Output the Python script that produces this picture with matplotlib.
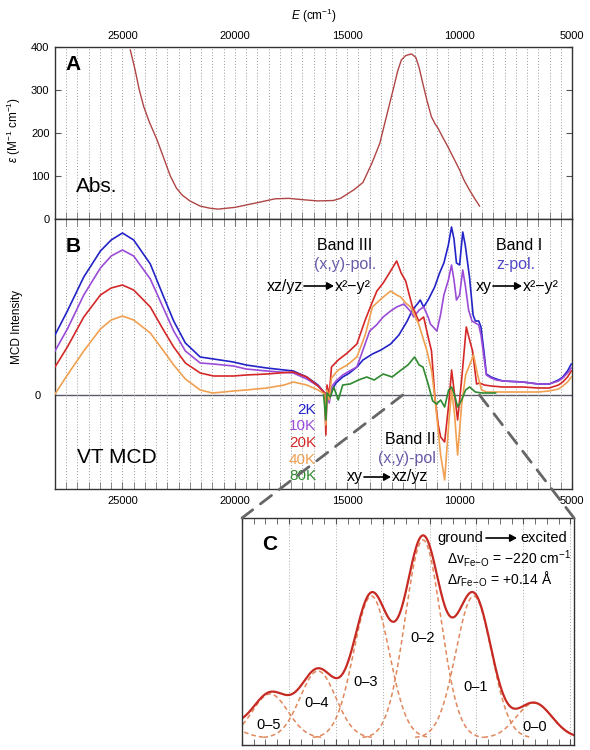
import matplotlib
matplotlib.use('Agg')
import matplotlib.pyplot as plt
import numpy as np
from matplotlib.patches import ConnectionPatch, FancyArrowPatch
from matplotlib.ticker import MultipleLocator, FixedLocator

plt.rcParams['font.family'] = ['Liberation Sans', 'DejaVu Sans']
plt.rcParams['mathtext.fontset'] = 'custom'
plt.rcParams['mathtext.rm'] = 'Liberation Sans'
plt.rcParams['mathtext.it'] = 'Liberation Sans:italic'

# ---------------- data ----------------
abs_E = [24650, 24450, 24250, 24050, 23800, 23460, 23150, 22870, 22600, 22350, 22000, 21540,
         21100, 20750, 20000, 19000, 18200, 17600, 17000, 16300, 15620, 15300, 15000, 14700,
         14300, 13900, 13550, 13200, 12960, 12750, 12590, 12400, 12144, 11950, 11800, 11650,
         11450, 11256, 11100, 10960, 10750, 10520, 10250, 10000, 9800, 9556, 9300, 9112]
abs_eps = [393, 350, 300, 261, 225, 184, 140, 100, 72, 56, 42, 30,
           25, 23, 27, 38, 47, 48, 45, 42, 43, 48, 58, 68,
           85, 130, 176, 250, 300, 345, 370, 380, 384, 376, 352, 318,
           275, 238, 222, 211, 190, 168, 140, 114, 90, 67, 45, 30]

mcd_2K_E = [28000, 27450, 26720, 25980, 25500, 25000, 24500, 23760, 23200, 22720, 22200, 21540,
            20950, 20060, 19500, 18580, 17400, 16800, 16300, 16000, 15950, 15900, 15800, 15700,
            15500, 15200, 14900, 14570, 14300, 13880, 13500, 13070, 12700, 12330, 12100, 11880,
            11750, 11600, 11400, 11110, 10890, 10700, 10500, 10360, 10250, 10140, 10000, 9860,
            9750, 9560, 9400, 9300, 9150, 9050, 8900, 8810, 8600, 8370, 8080, 7190, 6500, 6010,
            5600, 5410, 5200, 5030]
mcd_2K = [60, 84, 118, 144, 155, 162, 155, 131, 100, 74, 52, 38,
          36, 33, 30, 27, 24, 18, 10, 2, -20, 5, -5, 4,
          12, 18, 22, 28, 35, 41, 45, 51, 60, 74, 85, 91,
          95, 88, 95, 108, 122, 132, 150, 168, 156, 132, 130, 163,
          150, 118, 80, 74, 74, 68, 40, 21, 18, 16, 14, 13, 11, 11,
          15, 18, 24, 31]

mcd_10K_E = [28000, 27450, 26720, 25980, 25500, 25000, 24500, 23760, 23200, 22720, 22200, 21540,
             20950, 20060, 19500, 18580, 17400, 16800, 16300, 16000, 15950, 15900, 15800, 15700,
             15500, 15200, 14900, 14570, 14300, 14000, 13700, 13400, 13070, 12800, 12480, 12200,
             12040, 11800, 11600, 11400, 11300, 11010, 10850, 10700, 10500, 10360, 10250, 10140,
             10000, 9860, 9750, 9600, 9450, 9300, 9150, 9050, 8900, 8810, 8600, 8370, 8080, 7190,
             6500, 6010, 5600, 5410, 5200, 5030]
mcd_10K = [44, 66, 100, 127, 139, 145, 139, 116, 88, 64, 44, 32,
           31, 29, 26, 24, 22, 16, 9, 2, -30, 5, -8, 8,
           14, 20, 24, 28, 45, 64, 70, 78, 84, 88, 91, 84,
           78, 85, 88, 78, 71, 64, 80, 100, 115, 130, 115, 95,
           100, 125, 110, 85, 74, 72, 70, 60, 35, 20, 17, 15, 14, 13,
           11, 11, 14, 17, 22, 27]

mcd_20K_E = [28000, 27450, 26720, 25980, 25500, 25000, 24500, 23760, 23200, 22720, 22200, 21540,
             20950, 20060, 19500, 18580, 17400, 16800, 16300, 16000, 15950, 15900, 15800, 15700,
             15400, 15000, 14570, 14200, 13900, 13680, 13400, 13070, 12800, 12600, 12400, 12110,
             11820, 11600, 11420, 11250, 11100, 10950, 10844, 10666, 10488, 10355, 10222, 10089,
             9911, 9703, 9556, 9423, 9245, 9112, 8900, 8600, 8080, 7190, 6500, 6010, 5600, 5410,
             5200, 5030]
mcd_20K = [28, 48, 78, 100, 107, 110, 105, 88, 66, 48, 32, 22,
           19, 19, 20, 21, 23, 18, 9, 2, -40, 10, 0, 28,
           35, 42, 51, 75, 92, 104, 112, 124, 134, 122, 114, 89,
           74, 78, 60, 44, -2, -30, -42, -47, -10, 25, 0, -25,
           15, 68, 55, 44, 11, 12, 10, 9, 8, 8, 7, 7, 10, 13,
           18, 24]

mcd_40K_E = [28000, 27450, 26720, 25980, 25500, 25000, 24500, 23760, 23200, 22720, 22200, 21540,
             21000, 20500, 20060, 19500, 18580, 17800, 17400, 16800, 16300, 16000, 15950, 15900,
             15800, 15700, 15400, 15000, 14570, 14200, 13880, 13500, 13070, 12800, 12620, 12400,
             12180, 11820, 11450, 11243, 11066, 10844, 10666, 10488, 10355, 10222, 10089, 9911,
             9734, 9556, 9378, 9201, 9023, 8800, 8080, 7190, 6500, 6010, 5600, 5410, 5200, 5030]
mcd_40K = [1, 20, 44, 66, 75, 79, 75, 62, 45, 30, 16, 5,
           2, 3, 4, 5, 7, 10, 13, 10, 5, 1, -30, 5,
           -5, 17, 25, 30, 38, 60, 88, 96, 104, 100, 98, 92,
           88, 71, 44, 24, -10, -60, -85, -30, 5, -20, -60, -10,
           20, 30, 40, 20, 5, 3, 3, 3, 3, 4, 6, 9, 13, 18]

mcd_80K_E = [16050, 15950, 15900, 15750, 15600, 15400, 15200, 14870, 14500, 14130, 13800, 13400,
             13000, 12660, 12300, 12000, 11800, 11630, 11400, 11199, 11021, 10844, 10666, 10488,
             10355, 10222, 10089, 9911, 9734, 9556, 9300, 9000, 8700, 8400]
mcd_80K = [0, -25, 2, -2, 8, -5, 10, 11, 15, 18, 15, 21,
           18, 24, 30, 38, 30, 28, 11, -6, -9, -5, -12, 5,
           8, 0, -12, -5, 5, 8, 3, 2, 2, 2]

temps = ['2K', '10K', '20K', '40K', '80K']
temp_colors = ['#2323c8', '#9a4cd8', '#d42828', '#f0a050', '#2f8a2f']

# panel C: Gaussian components of the vibronic fit (centre, height, width in panel units)
comp_labels = ['0\u20136', '0\u20135', '0\u20134', '0\u20133', '0\u20132', '0\u20131', '0\u20130']
comp_center = [-45, 60, 162, 276, 386, 494, 623]
comp_height = [14, 44, 67, 142, 198, 142, 35]
comp_width = [38, 38, 38, 38, 38, 38, 38]

# ---------------- layout ----------------
W, H = 590, 750
fig = plt.figure(figsize=(W / 100, H / 100), dpi=100)


def rect(l, t, r, b):
    return [l / W, 1 - b / H, (r - l) / W, (b - t) / H]


def ftext(x, y, s, **kw):
    return fig.text(x / W, 1 - y / H, s, **kw)


def farrow(x0, x1, y, color='black'):
    fig.add_artist(FancyArrowPatch(
        (x0 / W, 1 - y / H), (x1 / W, 1 - y / H), transform=fig.transFigure,
        arrowstyle='-|>,head_length=4,head_width=2.2', color=color, lw=1.2,
        mutation_scale=1, shrinkA=0, shrinkB=0))


axA = fig.add_axes(rect(55, 47, 572, 219))
axB = fig.add_axes(rect(55, 219, 572, 489))
axC = fig.add_axes(rect(242, 518, 574, 745))

spine_col = '#333333'
grid_kw = dict(ls=(0, (1, 2)), color='#9a9a9a', lw=0.7)

for ax in (axA, axB):
    ax.set_xlim(28000, 5000)
    ax.xaxis.set_major_locator(FixedLocator([25000, 20000, 15000, 10000, 5000]))
    ax.xaxis.set_minor_locator(MultipleLocator(500))
    ax.grid(axis='x', which='both', **grid_kw)
    for s in ax.spines.values():
        s.set_color(spine_col)
        s.set_linewidth(1.0)

# Panel A
axA.plot(abs_E, abs_eps, color='#b04545', lw=1.0)
axA.set_ylim(0, 400)
axA.set_yticks([0, 100, 200, 300, 400])
axA.tick_params(axis='y', which='both', direction='in', length=4, left=True, right=True,
                labelsize=8, color='#555555', pad=4)
axA.tick_params(axis='x', which='both', direction='in', length=5, top=False, bottom=True,
                labeltop=True, labelbottom=False, labelsize=8, color='#777777', pad=4)
axA.set_ylabel(r'$\varepsilon$ (M$^{-1}$ cm$^{-1}$)', fontsize=8.5, labelpad=6)
axA.set_xlabel(r'$E$ (cm$^{-1}$)', fontsize=8.5, labelpad=8)
axA.xaxis.set_label_position('top')
axA.text(0.02, 0.9, 'A', transform=axA.transAxes, fontsize=15, fontweight='bold', va='center')
axA.text(0.04, 0.19, 'Abs.', transform=axA.transAxes, fontsize=15, va='center')

# Panel B
axB.axhline(0, color='#5a5a6a', lw=1.0, zorder=1)
series = [(mcd_2K_E, mcd_2K), (mcd_10K_E, mcd_10K), (mcd_20K_E, mcd_20K),
          (mcd_40K_E, mcd_40K), (mcd_80K_E, mcd_80K)]
for (e, v), c in zip(series, temp_colors):
    axB.plot(e, v, color=c, lw=1.2, zorder=3)
axB.set_ylim(-94, 176)
axB.set_yticks([0])
axB.set_yticklabels(['0'])
axB.tick_params(axis='y', length=0, labelsize=8, pad=10)
axB.tick_params(axis='x', which='both', direction='in', length=5, top=True, bottom=True,
                labelsize=8, color='#777777', pad=5)
axB.set_ylabel('MCD Intensity', fontsize=8.5, labelpad=8)
axB.yaxis.set_label_coords(-0.062, 0.6)
axA.yaxis.set_label_coords(-0.062, 0.52)
axB.text(0.02, 0.9, 'B', transform=axB.transAxes, fontsize=15, fontweight='bold', va='center')
axB.text(0.043, 0.115, 'VT MCD', transform=axB.transAxes, fontsize=15, va='center')

for i, (t, c) in enumerate(zip(temps, temp_colors)):
    ftext(316, 410 + i * 16.5, t, color=c, fontsize=11, ha='right', va='center')

pol_col = '#6a5aa8'
ftext(345, 245, 'Band III', fontsize=11.5, ha='center', va='center')
ftext(345, 264, '(x,y)-pol.', fontsize=11.5, ha='center', va='center', color=pol_col)
ftext(303, 286, 'xz/yz', fontsize=11.5, ha='right', va='center')
farrow(304, 334, 286)
ftext(335, 286, 'x\u00b2\u2212y\u00b2', fontsize=11.5, ha='left', va='center')

ftext(496, 245, 'Band I', fontsize=11.5, ha='left', va='center')
ftext(496, 264, 'z-pol.', fontsize=11.5, ha='left', va='center', color='#5248c8')
ftext(492, 286, 'xy', fontsize=11.5, ha='right', va='center')
farrow(493, 522, 286)
ftext(523, 286, 'x\u00b2\u2212y\u00b2', fontsize=11.5, ha='left', va='center')

ftext(436, 439, 'Band II', fontsize=11.5, ha='right', va='center')
ftext(436, 458, '(x,y)-pol', fontsize=11.5, ha='right', va='center', color=pol_col)
ftext(363, 477, 'xy', fontsize=11.5, ha='right', va='center')
farrow(364, 391, 477)
ftext(392, 477, 'xz/yz', fontsize=11.5, ha='left', va='center')

# Panel C
u = np.linspace(-10, 720, 800)
comps = [h * np.exp(-(u - c) ** 2 / (2 * w ** 2)) for c, h, w in zip(comp_center, comp_height, comp_width)]
total = np.sum(comps, axis=0)
for comp in comps:
    axC.plot(u, np.where(comp > 0.6, comp, np.nan), color='#e0875c', lw=1.1, ls=(0, (3, 2)))
axC.plot(u, total, color='#c62a22', lw=1.6)
axC.set_xlim(0, 708)
axC.set_ylim(-7, 220)
axC.set_yticks([])
axC.xaxis.set_major_locator(MultipleLocator(100))
axC.xaxis.set_minor_locator(MultipleLocator(25))
axC.grid(axis='x', which='major', ls=(0, (1, 2)), color='#aaaaaa', lw=0.7)
axC.tick_params(axis='x', which='both', direction='in', length=4, top=True, bottom=True,
                labelbottom=False, color='#555555')
for s in axC.spines.values():
    s.set_color(spine_col)
    s.set_linewidth(1.0)
axC.text(0.06, 0.885, 'C', transform=axC.transAxes, fontsize=15, fontweight='bold', va='center')

lab_pos = {'0\u20135': (269, 725), '0\u20134': (317, 703), '0\u20133': (366, 682),
           '0\u20132': (423, 638), '0\u20131': (476, 687), '0\u20130': (535, 727)}
for k, (x, y) in lab_pos.items():
    ftext(x, y, k, fontsize=10.5, ha='center', va='center')

ftext(483, 538, 'ground', fontsize=10.5, ha='right', va='center')
farrow(486, 517, 538)
ftext(520, 538, 'excited', fontsize=10.5, ha='left', va='center')
ftext(447, 559, r'$\Delta\mathrm{v}_{\mathrm{Fe}\!-\!\mathrm{O}}$' + ' = \u2212220 cm' + r'$^{-1}$',
      fontsize=10, ha='left', va='center')
ftext(447, 579, r'$\Delta r_{\mathrm{Fe}\!-\!\mathrm{O}}$' + ' = +0.14 \u00c5', fontsize=10,
      ha='left', va='center')

# connector dashed lines from panel B to panel C
for xb, xc in ((12530, 0), (9112, 1)):
    con = ConnectionPatch(xyA=(xb, 0), coordsA=axB.transData, xyB=(xc, 1), coordsB=axC.transAxes,
                          color='#666666', lw=2.0, ls=(0, (5, 3.5)), zorder=10)
    fig.add_artist(con)

fig.savefig('out.png', dpi=100)
